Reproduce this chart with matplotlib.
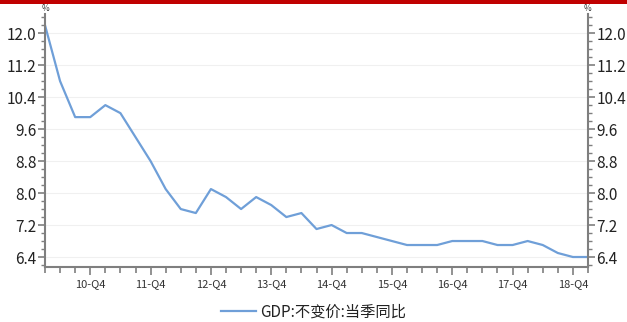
import matplotlib.pyplot as plt
import matplotlib.patches as patches
from matplotlib.ticker import MultipleLocator, FixedLocator

plt.rcParams['font.family'] = ['Noto Sans CJK SC', 'DejaVu Sans']

# --- dane: PKB, kwartalnie r/r, 2010-Q1 .. 2019-Q1 ---
kwartaly = [f"{r}-Q{q}" for r in range(10, 19) for q in range(1, 5)] + ["19-Q1"]
gdp = [12.2, 10.8, 9.9, 9.9,
       10.2, 10.0, 9.4, 8.8,
       8.1, 7.6, 7.5, 8.1,
       7.9, 7.6, 7.9, 7.7,
       7.4, 7.5, 7.1, 7.2,
       7.0, 7.0, 6.9, 6.8,
       6.7, 6.7, 6.7, 6.8,
       6.8, 6.8, 6.7, 6.7,
       6.8, 6.7, 6.5, 6.4,
       6.4]
etykiety_x = [k for k in kwartaly if k.endswith("Q4")]
nazwa = "GDP:不变价:当季同比"

fig = plt.figure(figsize=(6.27, 3.22), dpi=100)
fig.add_artist(patches.Rectangle((0, 1 - 4 / 322), 1, 4 / 322, transform=fig.transFigure,
                                 color='#c00000', lw=0))

ax = fig.add_axes([45 / 627, 1 - 267 / 322, (588 - 45) / 627, (267 - 14) / 322])
x = list(range(len(gdp)))
ax.plot(x, gdp, color='#6f9fd8', lw=1.6, label=nazwa)

ax.set_xlim(0, len(gdp) - 1)
ax.set_ylim(6.15, 12.48)

szary = '#7f7f7f'
for s in ['left', 'right', 'bottom']:
    ax.spines[s].set_color(szary)
    ax.spines[s].set_linewidth(1.5)
ax.spines['top'].set_visible(False)

pozycje_q4 = [i for i, k in enumerate(kwartaly) if k.endswith("Q4")]
ax.xaxis.set_major_locator(FixedLocator(pozycje_q4))
ax.set_xticklabels(etykiety_x)
ax.xaxis.set_minor_locator(MultipleLocator(1))
ax.tick_params(axis='x', which='major', length=6, width=1.2, color=szary,
               labelsize=8, labelcolor='#333333', pad=3)
ax.tick_params(axis='x', which='minor', length=4, width=1.2, color=szary)

ax.yaxis.set_major_locator(MultipleLocator(0.8))
ax.yaxis.set_minor_locator(MultipleLocator(0.2))
ax.yaxis.set_major_formatter(plt.FuncFormatter(lambda v, p: f"{v:.1f}"))
ax.tick_params(axis='y', which='major', length=5, width=1.2, color=szary,
               labelsize=11, labelcolor='#222222', left=True, right=True,
               labelleft=True, labelright=True, pad=1)
ax.tick_params(axis='y', which='minor', length=3, width=1.0, color=szary,
               left=True, right=True)

ax.grid(axis='y', which='major', color='#f0f0f0', lw=0.8)
ax.set_axisbelow(True)

ax.text(0, 1.005, "%", transform=ax.transAxes, fontsize=6, ha='center', va='bottom',
        color='#333333')
ax.text(1, 1.005, "%", transform=ax.transAxes, fontsize=6, ha='center', va='bottom',
        color='#333333')

fig.legend(loc='center', bbox_to_anchor=(0.5, 1 - 312 / 322), frameon=False,
           fontsize=11, handlelength=2.3, handletextpad=0.3, labelcolor='#222222')

plt.savefig("out.png", dpi=100)
plt.close()
